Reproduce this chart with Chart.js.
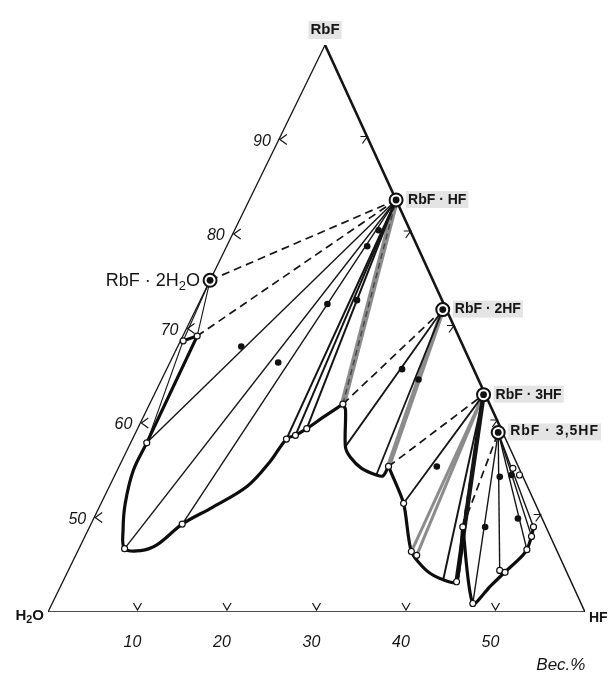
<!DOCTYPE html>
<html><head><meta charset="utf-8">
<script src="https://cdn.jsdelivr.net/npm/chart.js@4.4.0/dist/chart.umd.min.js"></script>
<style>html,body{margin:0;padding:0;background:#fff}canvas{display:block}</style>
</head><body>
<canvas id="c" width="611" height="677"></canvas>
<script>
// ---------- data: [wt.% HF, wt.% RbF] (H2O = rest) ----------
const compoundLabels = ['RbF · HF', 'RbF · 2HF', 'RbF · 3HF', 'RbF · 3,5HF'];
const compoundHF  = [16.4, 27.6, 36.8, 40.5];
const compoundRbF = [83.6, 72.0, 63.0, 59.0];
const hydrateLabel = ['RbF · 2H', '2', 'O'];
const hydrateHF = 0.0, hydrateRbF = 75.1;

// solubility isotherm branches
const branch2H2O = [[0.3, 68.7], [1.6, 69.2]];
const branchHFa  = [[1.6, 69.2], [1.8, 57.9]];
const branchHF   = [[1.8, 57.9], [1.8, 55.0], [2.7, 51.5], [3.9, 48.7], [5.1, 46.7], [7.0, 46.5], [8.5, 47.1],
                    [10.2, 49.3], [12.7, 51.1], [15.4, 53.3], [16.6, 55.9], [17.2, 58.3], [18.0, 58.7],
                    [18.9, 59.4], [20.2, 60.7], [21.6, 62.0]];
const branch2HF  = [[21.6, 62.0], [22.2, 61.4], [24.2, 57.5], [25.3, 56.4], [27.2, 55.2], [29.2, 54.5],
                    [30.0, 54.4], [30.1, 55.4]];
const branch3HF  = [[30.1, 55.4], [33.8, 51.5], [37.3, 46.4], [40.0, 44.4], [42.4, 43.4], [44.0, 43.2], [41.7, 49.0]];
const branch35HF = [[41.7, 49.0], [47.0, 40.9], [48.0, 42.7], [48.8, 44.1], [49.8, 45.7], [50.1, 46.6],
                    [49.9, 48.0], [49.6, 49.0]];

// tie lines: liquid end points for each solid phase
const tiesHF   = [[1.8, 57.9], [5.1, 46.7], [10.2, 49.3]];
const tiesHFb  = [[17.2, 58.3], [18.0, 58.7], [18.9, 59.4]];
const ties2HF  = [[24.2, 57.5], [29.2, 54.5]];
const ties3HF  = [[33.8, 51.5]];
const ties35HF = [[47.0, 40.9], [48.2, 44.4], [50.1, 46.6], [49.9, 48.0], [49.6, 49.0]];

// liquid points (open circles) and wet residues (dots)
const liquidHF  = [0.3, 1.6, 1.8, 5.1, 10.2, 17.2, 18.0, 18.9, 21.6, 30.1, 33.8, 37.3, 38.1, 44.0, 41.7, 47.0, 48.2, 48.9, 50.1, 49.9, 49.6, 44.1, 45.2];
const liquidRbF = [68.7, 69.2, 57.9, 46.7, 49.3, 58.3, 58.7, 59.4, 62.0, 55.4, 51.5, 46.4, 46.0, 43.2, 49.0, 40.9, 44.4, 44.2, 46.6, 48.0, 49.0, 55.2, 54.5];
const residueHF  = [7.1, 12.1, 14.4, 15.7, 17.5, 16.1, 26.3, 28.7, 35.5, 44.2, 43.1, 47.4, 44.3];
const residueRbF = [68.1, 66.4, 72.6, 78.7, 73.0, 80.4, 65.7, 64.6, 55.4, 49.0, 54.3, 49.9, 54.5];

// axis ticks
const leftTicks = [50, 60, 70, 80, 90];      // RbF, H2O–RbF side
const rightTicks = [50, 60, 70, 80, 90];     // RbF, RbF–HF side
const bottomTicks = [10, 20, 30, 40, 50];    // HF, base
const unitLabel = 'Вес.%';

// ---------- projection of the enlarged ternary corner ----------
const K = 0.5159;
const T = (h, r) => ({ x: h + (r - 40) * K, y: r });
const S = compoundHF.map((h, i) => [h, compoundRbF[i]]);
const HYD = [hydrateHF, hydrateRbF];
const cusp1 = branchHF[branchHF.length - 1];
const cusp2 = branch2HF[branch2HF.length - 1];
const cusp3 = branch3HF[branch3HF.length - 1];

function line(pts, opt) {
  return Object.assign({
    data: pts.map(p => T(p[0], p[1])), showLine: true, pointRadius: 0, pointHoverRadius: 0,
    borderColor: '#151515', borderWidth: 1.4, fill: false, tension: 0, order: 5
  }, opt);
}
const ds = [];
// triangle
ds.push(line([[0, 40], [0, 100]], { borderWidth: 1.3, order: 9 }));
ds.push(line([[0, 100], [41, 59]], { borderWidth: 2.6, order: 9 }));
ds.push(line([[41, 59], [60, 40]], { borderWidth: 1.5, order: 9 }));
ds.push(line([[0, 40], [60, 40]], { borderWidth: 1.7, order: 9 }));
// grey (highlighted) tie lines
ds.push(line([cusp1, S[0]], { borderColor: '#8c8c8c', borderWidth: 6, order: 8 }));
ds.push(line([cusp1, S[0]], { borderColor: '#444', borderWidth: 1.4, borderDash: [6, 4], order: 7 }));
ds.push(line([cusp2, S[1]], { borderColor: '#8c8c8c', borderWidth: 5, order: 8 }));
ds.push(line([[37.3, 46.4], S[2]], { borderColor: '#8c8c8c', borderWidth: 3, order: 8 }));
ds.push(line([[38.1, 46.0], S[2]], { borderColor: '#8c8c8c', borderWidth: 3, order: 8 }));
// solid tie lines
tiesHF.forEach(p => ds.push(line([p, S[0]])));
tiesHFb.forEach(p => ds.push(line([p, S[0]], { borderWidth: 2 })));
ties2HF.forEach(p => ds.push(line([p, S[1]], { borderWidth: 1.8 })));
ties3HF.forEach(p => ds.push(line([p, S[2]], { borderWidth: 1.8 })));
ties35HF.forEach(p => ds.push(line([p, S[3]])));
ds.push(line([[44.0, 43.2], S[2]], { borderWidth: 4.5 }));
ds.push(line([[42.4, 43.4], S[2]], { borderWidth: 2 }));
ds.push(line([HYD, branch2H2O[0]], { borderWidth: 1.1 }));
ds.push(line([HYD, branch2H2O[1]], { borderWidth: 1.1 }));
ds.push(line([branch2H2O[0], branchHFa[1]], { borderWidth: 1.1 }));
// dashed tie lines (three-phase triangles)
const dash = { borderDash: [8, 5], borderWidth: 1.7 };
ds.push(line([HYD, S[0]], dash));
ds.push(line([branch2H2O[1], S[0]], dash));
ds.push(line([cusp1, S[1]], dash));
ds.push(line([cusp2, S[2]], dash));
ds.push(line([cusp3, S[2]], dash));
ds.push(line([cusp3, S[3]], dash));
// isotherm
const iso = { borderWidth: 3.2, order: 2, borderColor: '#0d0d0d' };
ds.push(line(branch2H2O, iso));
ds.push(line(branchHFa, iso));
ds.push(line(branchHF, Object.assign({ tension: 0.35 }, iso)));
ds.push(line(branch2HF, Object.assign({ tension: 0.3 }, iso)));
ds.push(line(branch3HF, Object.assign({ tension: 0.25 }, iso)));
ds.push(line(branch35HF, Object.assign({ tension: 0.25 }, iso)));
// points
ds.push({ data: residueHF.map((h, i) => T(h, residueRbF[i])), pointRadius: 3.3, pointBackgroundColor: '#111',
          pointBorderColor: '#111', pointBorderWidth: 0, showLine: false, order: 1 });
ds.push({ data: liquidHF.map((h, i) => T(h, liquidRbF[i])), pointRadius: 3, pointBackgroundColor: '#fff',
          pointBorderColor: '#111', pointBorderWidth: 1.2, showLine: false, order: 1 });
const markers = S.concat([HYD]);
ds.push({ data: markers.map(p => T(p[0], p[1])), pointRadius: 6.5, pointBackgroundColor: '#fff',
          pointBorderColor: '#111', pointBorderWidth: 2, showLine: false, order: 0 });
ds.push({ data: markers.map(p => T(p[0], p[1])), pointRadius: 3.4, pointBackgroundColor: '#111',
          pointBorderColor: '#111', pointBorderWidth: 0, showLine: false, order: -1 });

// ---------- overlay: edge ticks and labels ----------
function rich(ctx, parts, x, y, align, size, weight) {
  const f = (s) => `${weight} ${s}px "Liberation Sans", Arial, sans-serif`;
  let w = 0;
  parts.forEach((p, i) => { ctx.font = f(i % 2 ? size * 0.72 : size); w += ctx.measureText(p).width; });
  let cx = align === 'right' ? x - w : x;
  ctx.textAlign = 'left'; ctx.textBaseline = 'middle';
  parts.forEach((p, i) => {
    const sub = i % 2 === 1;
    ctx.font = f(sub ? size * 0.72 : size);
    ctx.fillText(p, cx, sub ? y + size * 0.3 : y);
    cx += ctx.measureText(p).width;
  });
}
const overlay = {
  id: 'overlay',
  afterDatasetsDraw(chart) {
    const ctx = chart.ctx, xs = chart.scales.x, ys = chart.scales.y;
    const P = (h, r) => { const t = T(h, r); return [xs.getPixelForValue(t.x), ys.getPixelForValue(t.y)]; };
    ctx.save();
    ctx.strokeStyle = '#151515'; ctx.fillStyle = '#151515'; ctx.lineWidth = 1.2;
    const tickFont = 'italic 16px "Liberation Sans", Arial, sans-serif';
    leftTicks.forEach(v => {
      const [x, y] = P(0, v);
      ctx.beginPath(); ctx.moveTo(x + 8, y - 5); ctx.lineTo(x + 1, y); ctx.lineTo(x + 8, y + 5); ctx.stroke();
      ctx.font = tickFont; ctx.textAlign = 'right'; ctx.textBaseline = 'middle';
      ctx.fillText(String(v), x - 8, y + 2);
    });
    rightTicks.forEach(v => {
      const [x, y] = P(100 - v, v);
      ctx.beginPath(); ctx.moveTo(x - 8, y - 3); ctx.lineTo(x - 1, y - 3); ctx.lineTo(x - 6, y + 4); ctx.stroke();
    });
    bottomTicks.forEach(v => {
      const [x, y] = P(v, 40);
      ctx.beginPath(); ctx.moveTo(x - 4, y - 9); ctx.lineTo(x, y - 2); ctx.lineTo(x + 4, y - 9); ctx.stroke();
      ctx.font = tickFont; ctx.textAlign = 'center'; ctx.textBaseline = 'middle';
      ctx.fillText(String(v), x - 5, y + 31);
    });
    // compound labels
    compoundLabels.forEach((s, i) => {
      const [x, y] = P(compoundHF[i], compoundRbF[i]);
      ctx.font = 'bold 14px "Liberation Sans", Arial, sans-serif';
      ctx.letterSpacing = i === 3 ? '1px' : '0px';
      const w = ctx.measureText(s).width;
      ctx.fillStyle = '#e4e4e4'; ctx.fillRect(x + 10, y - 9, w + 4, 17);
      ctx.fillStyle = '#151515'; ctx.textAlign = 'left'; ctx.textBaseline = 'middle';
      ctx.fillText(s, x + 12, y + (i === 3 ? -1 : 0));
    });
    ctx.letterSpacing = '0px';
    { const [x, y] = P(hydrateHF, hydrateRbF); rich(ctx, hydrateLabel, x - 10, y + 1, 'right', 18, 'normal'); }
    { const [x, y] = P(0, 100);
      ctx.font = 'bold 15px "Liberation Sans", Arial, sans-serif';
      const w = ctx.measureText('RbF').width;
      ctx.fillStyle = '#e4e4e4'; ctx.fillRect(x - w / 2 - 2, y - 24, w + 4, 18);
      ctx.fillStyle = '#151515'; ctx.textAlign = 'center'; ctx.textBaseline = 'middle';
      ctx.fillText('RbF', x, y - 15); }
    { const [x, y] = P(0, 40); rich(ctx, ['H', '2', 'O'], x - 4, y + 4, 'right', 15, 'bold'); }
    { const [x, y] = P(60, 40);
      ctx.font = 'bold 14px "Liberation Sans", Arial, sans-serif'; ctx.textAlign = 'left'; ctx.textBaseline = 'middle';
      ctx.fillText('HF', x + 4, y + 6); }
    { const [x, y] = P(57.3, 40);
      ctx.font = 'italic 17px "Liberation Sans", Arial, sans-serif'; ctx.textAlign = 'center'; ctx.textBaseline = 'middle';
      ctx.fillText(unitLabel, x, y + 53); }
    ctx.restore();
  }
};

new Chart(document.getElementById('c'), {
  type: 'scatter',
  data: { datasets: ds },
  options: {
    responsive: false, animation: false, events: [],
    layout: { padding: { left: 48, right: 26, top: 45, bottom: 65 } },
    scales: {
      x: { type: 'linear', min: 0, max: 60, display: false },
      y: { type: 'linear', min: 40, max: 100, display: false }
    },
    plugins: { legend: { display: false }, tooltip: { enabled: false } }
  },
  plugins: [overlay]
});
</script>
</body></html>
